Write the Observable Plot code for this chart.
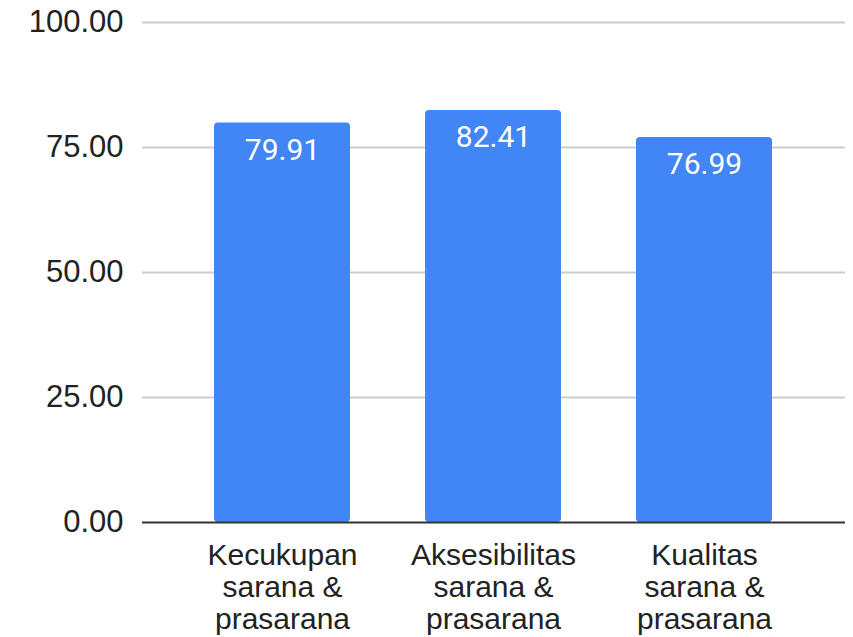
<!DOCTYPE html>
<html>
<head>
<meta charset="utf-8">
<script src="https://cdn.jsdelivr.net/npm/d3@7"></script>
<script src="https://cdn.jsdelivr.net/npm/@observablehq/plot@0.6"></script>
<style>
  html, body { margin: 0; padding: 0; background: #fff; }
</style>
</head>
<body>
<div id="chart"></div>
<script>
const categories = ["Kecukupan sarana & prasarana", "Aksesibilitas sarana & prasarana", "Kualitas sarana & prasarana"];
const axisLabels = ["Kecukupan\nsarana &\nprasarana", "Aksesibilitas\nsarana &\nprasarana", "Kualitas\nsarana &\nprasarana"];
const values = [79.91, 82.41, 76.99];
const yTicks = [0, 25, 50, 75, 100];

const data = categories.map((c, i) => ({category: c, value: values[i]}));
const labelOf = new Map(categories.map((c, i) => [c, axisLabels[i]]));

const chart = Plot.plot({
  width: 853,
  height: 637,
  marginTop: 22,
  marginBottom: 115,
  marginLeft: 142,
  marginRight: 8,
  style: {fontFamily: "'Liberation Sans', Arial, sans-serif", background: "#fff", color: "#222"},
  x: {domain: categories, paddingInner: 0.355, paddingOuter: 0.34, label: null},
  y: {domain: [0, 100], label: null},
  marks: [
    Plot.ruleY(yTicks.filter(d => d > 0), {stroke: "#cccccc", strokeWidth: 2}),
    Plot.barY(data, {x: "category", y: "value", fill: "#4285F4", rx: 4}),
    Plot.ruleY([0], {stroke: "#333", strokeWidth: 2}),
    Plot.axisY(yTicks, {tickSize: 0, tickPadding: 19, tickFormat: d3.format(".2f"), fontSize: 31, fill: "#222", label: null}),
    Plot.axisX({tickSize: 0, tickPadding: 20, tickFormat: d => labelOf.get(d), fontSize: 30, lineHeight: 1.07, fill: "#222", label: null}),
    Plot.text(data, {x: "category", y: "value", text: d => d3.format(".2f")(d.value), dy: 27, fill: "white", fontSize: 30, fontFamily: "Roboto, sans-serif"})
  ]
});
document.getElementById("chart").appendChild(chart);
</script>
</body>
</html>
